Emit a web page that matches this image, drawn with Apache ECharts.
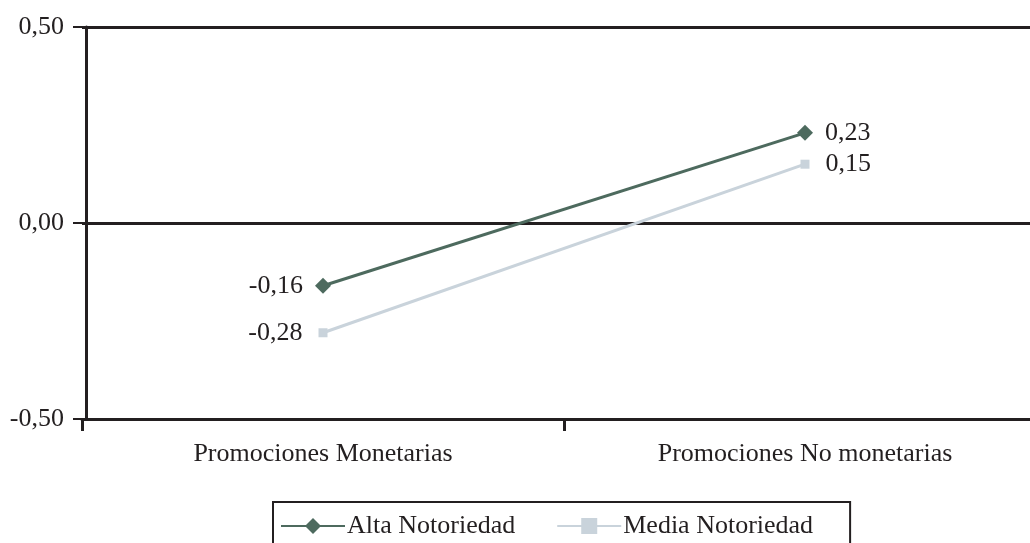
<!DOCTYPE html>
<html>
<head>
<meta charset="utf-8">
<script src="https://cdn.jsdelivr.net/npm/echarts@6/dist/echarts.min.js"></script>
<style>
  html, body { margin: 0; padding: 0; background: #ffffff; }
  #chart { width: 1030px; height: 543px; }
</style>
</head>
<body>
<div id="chart"></div>
<script>
// Promotion type vs. brand awareness
const categories = ['Promociones Monetarias', 'Promociones No monetarias'];
const seriesNames = ['Alta Notoriedad', 'Media Notoriedad'];
const altaValues = [-0.16, 0.23];
const mediaValues = [-0.28, 0.15];
const yTicks = [-0.5, 0, 0.5];

const fmt = v => v.toFixed(2).replace('.', ',');
const FONT = '"Liberation Serif", "Times New Roman", serif';
const TEXT = '#231f20';
const INK = '#231f20';
const FS = 26;

const chart = echarts.init(document.getElementById('chart'), null, { renderer: 'canvas' });

function labelled(values) {
  return values.map((v, i) => ({
    value: v,
    label: { position: i === 0 ? 'left' : 'right' }
  }));
}

chart.setOption({
  animation: false,
  backgroundColor: '#ffffff',
  textStyle: { fontFamily: FONT, color: TEXT },
  // the plot runs past the right edge of the canvas
  grid: { left: 82, width: 964, top: 27, height: 392, outerBoundsMode: 'none', containLabel: false },
  legend: {
    data: seriesNames,
    left: 273,
    top: 502,
    itemWidth: 64,
    itemHeight: 20,
    itemGap: 41,
    padding: [11, 37, 30, 7],
    borderColor: INK,
    borderWidth: 2,
    textStyle: { fontFamily: FONT, fontSize: FS, color: TEXT, padding: [0, 0, 0, -3] }
  },
  xAxis: {
    type: 'category',
    data: categories,
    boundaryGap: true,
    axisLine: { onZero: false, lineStyle: { color: INK, width: 3 } },
    axisTick: { show: true, length: 12, lineStyle: { color: INK, width: 3 } },
    axisLabel: { fontFamily: FONT, fontSize: FS, color: TEXT, margin: 22 },
    splitLine: { show: false }
  },
  yAxis: {
    type: 'value',
    min: yTicks[0],
    max: yTicks[yTicks.length - 1],
    interval: 0.5,
    offset: -4,
    axisLine: { show: true, lineStyle: { color: INK, width: 3 } },
    axisTick: { show: true, length: 13, lineStyle: { color: INK, width: 2 } },
    axisLabel: { fontFamily: FONT, fontSize: FS, color: TEXT, margin: 22, formatter: v => fmt(v) },
    splitLine: { show: true, lineStyle: { color: INK, width: 3 } }
  },
  series: [
    {
      name: seriesNames[0],
      type: 'line',
      data: labelled(altaValues),
      symbol: 'diamond',
      symbolSize: 16,
      color: '#4d6a5e',
      lineStyle: { color: '#4d6a5e', width: 3 },
      itemStyle: { color: '#4d6a5e' },
      label: { show: true, fontFamily: FONT, fontSize: FS, color: TEXT, distance: 12, formatter: p => fmt(p.value) },
      z: 3
    },
    {
      name: seriesNames[1],
      type: 'line',
      data: labelled(mediaValues),
      symbol: 'rect',
      symbolSize: 9,
      color: '#c9d3db',
      lineStyle: { color: '#c9d3db', width: 3 },
      itemStyle: { color: '#c9d3db' },
      label: { show: true, fontFamily: FONT, fontSize: FS, color: TEXT, distance: 16, formatter: p => fmt(p.value) },
      z: 2
    }
  ]
});
</script>
</body>
</html>
